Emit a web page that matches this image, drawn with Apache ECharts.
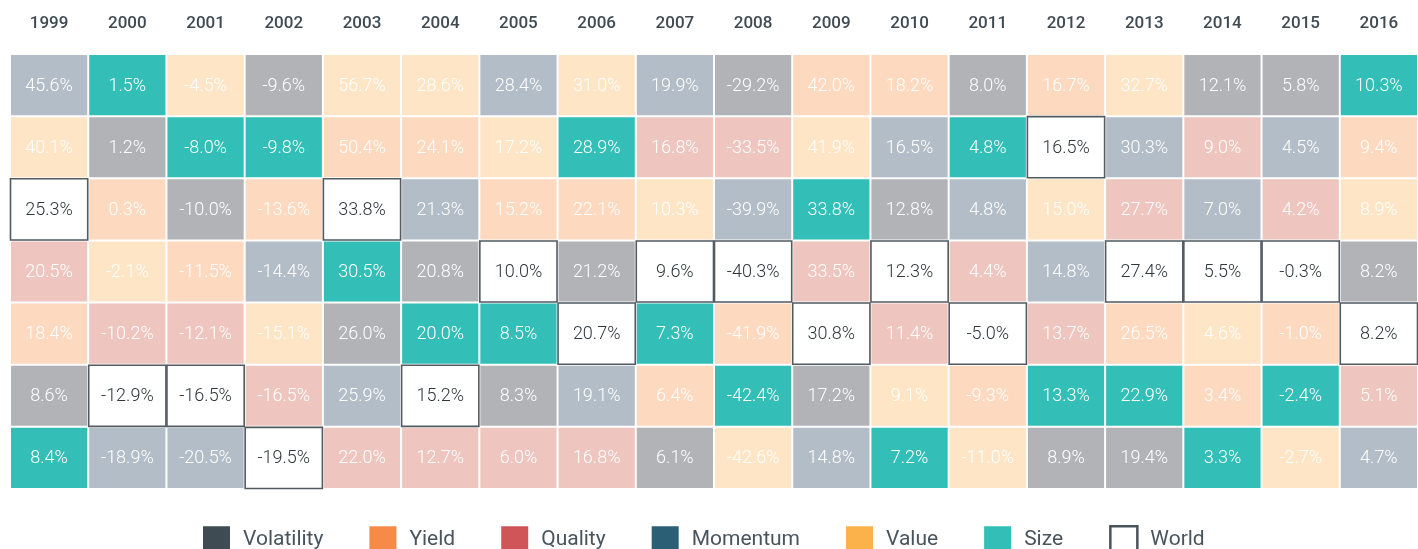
<!DOCTYPE html>
<html>
<head>
<meta charset="utf-8">
<script src="https://cdn.jsdelivr.net/npm/echarts@6/dist/echarts.min.js"></script>
<style>
  html, body { margin: 0; padding: 0; background: #ffffff; overflow: hidden; }
  #chart { width: 1418px; height: 549px; }
</style>
</head>
<body>
<div id="chart"></div>
<script>
// ---- Data ----
const years = ['1999','2000','2001','2002','2003','2004','2005','2006','2007','2008','2009','2010','2011','2012','2013','2014','2015','2016'];
const ranks = ['1','2','3','4','5','6','7'];
const factors = ['Volatility','Yield','Quality','Momentum','Value','Size','World'];

// Returns (%) by rank (row 1 = best) for each year
const rank1Values = [45.6, 1.5, -4.5, -9.6, 56.7, 28.6, 28.4, 31.0, 19.9, -29.2, 42.0, 18.2, 8.0, 16.7, 32.7, 12.1, 5.8, 10.3];
const rank2Values = [40.1, 1.2, -8.0, -9.8, 50.4, 24.1, 17.2, 28.9, 16.8, -33.5, 41.9, 16.5, 4.8, 16.5, 30.3, 9.0, 4.5, 9.4];
const rank3Values = [25.3, 0.3, -10.0, -13.6, 33.8, 21.3, 15.2, 22.1, 10.3, -39.9, 33.8, 12.8, 4.8, 15.0, 27.7, 7.0, 4.2, 8.9];
const rank4Values = [20.5, -2.1, -11.5, -14.4, 30.5, 20.8, 10.0, 21.2, 9.6, -40.3, 33.5, 12.3, 4.4, 14.8, 27.4, 5.5, -0.3, 8.2];
const rank5Values = [18.4, -10.2, -12.1, -15.1, 26.0, 20.0, 8.5, 20.7, 7.3, -41.9, 30.8, 11.4, -5.0, 13.7, 26.5, 4.6, -1.0, 8.2];
const rank6Values = [8.6, -12.9, -16.5, -16.5, 25.9, 15.2, 8.3, 19.1, 6.4, -42.4, 17.2, 9.1, -9.3, 13.3, 22.9, 3.4, -2.4, 5.1];
const rank7Values = [8.4, -18.9, -20.5, -19.5, 22.0, 12.7, 6.0, 16.8, 6.1, -42.6, 14.8, 7.2, -11.0, 8.9, 19.4, 3.3, -2.7, 4.7];

// Factor occupying each cell (same layout as the value arrays)
const rank1Factors = ['Momentum','Size','Value','Volatility','Value','Value','Momentum','Value','Momentum','Volatility','Yield','Yield','Volatility','Yield','Value','Volatility','Volatility','Size'];
const rank2Factors = ['Value','Volatility','Size','Size','Yield','Yield','Value','Size','Quality','Quality','Value','Momentum','Size','World','Momentum','Quality','Momentum','Yield'];
const rank3Factors = ['World','Yield','Volatility','Yield','World','Momentum','Yield','Yield','Value','Momentum','Size','Volatility','Momentum','Value','Quality','Momentum','Quality','Value'];
const rank4Factors = ['Quality','Value','Yield','Momentum','Size','Volatility','World','Volatility','World','World','Quality','World','Quality','Momentum','World','World','World','Volatility'];
const rank5Factors = ['Yield','Quality','Quality','Value','Volatility','Size','Size','World','Size','Yield','World','Quality','World','Quality','Yield','Value','Yield','World'];
const rank6Factors = ['Volatility','World','World','Quality','Momentum','World','Volatility','Momentum','Yield','Size','Volatility','Value','Yield','Size','Size','Yield','Size','Quality'];
const rank7Factors = ['Size','Momentum','Momentum','World','Quality','Quality','Quality','Quality','Volatility','Value','Momentum','Size','Value','Volatility','Volatility','Size','Value','Momentum'];

// ---- Styles ----
const cellColors = {
  Volatility: '#b2b3b6', Yield: '#fdd9bf', Quality: '#eec6bf',
  Momentum: '#b3bdc7', Value: '#fde5c5', Size: '#33bfb8', World: '#ffffff'
};
const legendColors = {
  Volatility: '#3e4b53', Yield: '#f68b47', Quality: '#cf5558',
  Momentum: '#2b5f76', Value: '#fbb24a', Size: '#33bfb8', World: '#ffffff'
};

const rankValues = [rank1Values, rank2Values, rank3Values, rank4Values, rank5Values, rank6Values, rank7Values];
const rankFactors = [rank1Factors, rank2Factors, rank3Factors, rank4Factors, rank5Factors, rank6Factors, rank7Factors];

function seriesData(factor) {
  const out = [];
  for (let r = 0; r < ranks.length; r++) {
    for (let c = 0; c < years.length; c++) {
      if (rankFactors[r][c] === factor) out.push([c, r, rankValues[r][c]]);
    }
  }
  return out;
}

const FONT = 'Roboto, "Open Sans", sans-serif';

function makeRender(factor) {
  const isWorld = factor === 'World';
  return function (params, api) {
    const c = api.coord([api.value(0), api.value(1)]);
    const s = api.size([1, 1]);
    const w = s[0], h = s[1];
    const txt = api.value(2).toFixed(1) + '%';
    const rect = isWorld
      ? { type: 'rect', shape: { x: c[0] - w / 2 + 0.5, y: c[1] - h / 2 + 0.5, width: w - 1, height: h - 1 },
          style: { fill: '#ffffff', stroke: '#525b62', lineWidth: 1.6 } }
      : { type: 'rect', shape: { x: c[0] - w / 2 + 1, y: c[1] - h / 2 + 1, width: w - 2, height: h - 2 },
          style: { fill: cellColors[factor] } };
    const text = {
      type: 'text',
      style: {
        text: txt, x: c[0], y: c[1] + 1, align: 'center', verticalAlign: 'middle',
        fill: isWorld ? '#2f363c' : '#ffffff',
        fontSize: 18, fontWeight: 300, fontFamily: FONT
      }
    };
    return { type: 'group', children: [rect, text] };
  };
}

const series = factors.map(f => ({
  name: f,
  type: 'custom',
  coordinateSystem: 'cartesian2d',
  renderItem: makeRender(f),
  itemStyle: { color: cellColors[f] },
  encode: { x: 0, y: 1 },
  data: seriesData(f),
  z: f === 'World' ? 3 : 2
}));

const chart = echarts.init(document.getElementById('chart'), null, { renderer: 'canvas' });
chart.setOption({
  animation: false,
  backgroundColor: '#ffffff',
  grid: { left: 10, top: 54, width: 1415, height: 435, containLabel: false },
  xAxis: {
    type: 'category', data: years, position: 'top',
    axisLine: { show: false }, axisTick: { show: false }, splitLine: { show: false },
    axisLabel: { color: '#3f4a53', fontSize: 17, fontWeight: 500, fontFamily: FONT, margin: 22 }
  },
  yAxis: {
    type: 'category', data: ranks, inverse: true, show: false
  },
  legend: {
    left: 203, top: 525, padding: 0, itemWidth: 27, itemHeight: 27, itemGap: 46,
    icon: 'rect', selectedMode: false,
    textStyle: { fontSize: 21, color: '#4a545c', fontFamily: FONT, padding: [0, 0, 0, 8] },
    data: factors.map(f => ({
      name: f,
      itemStyle: f === 'World'
        ? { color: '#ffffff', borderColor: '#4a545c', borderWidth: 2.5 }
        : { color: legendColors[f], borderWidth: 0 }
    }))
  },
  series: series
});
</script>
</body>
</html>
